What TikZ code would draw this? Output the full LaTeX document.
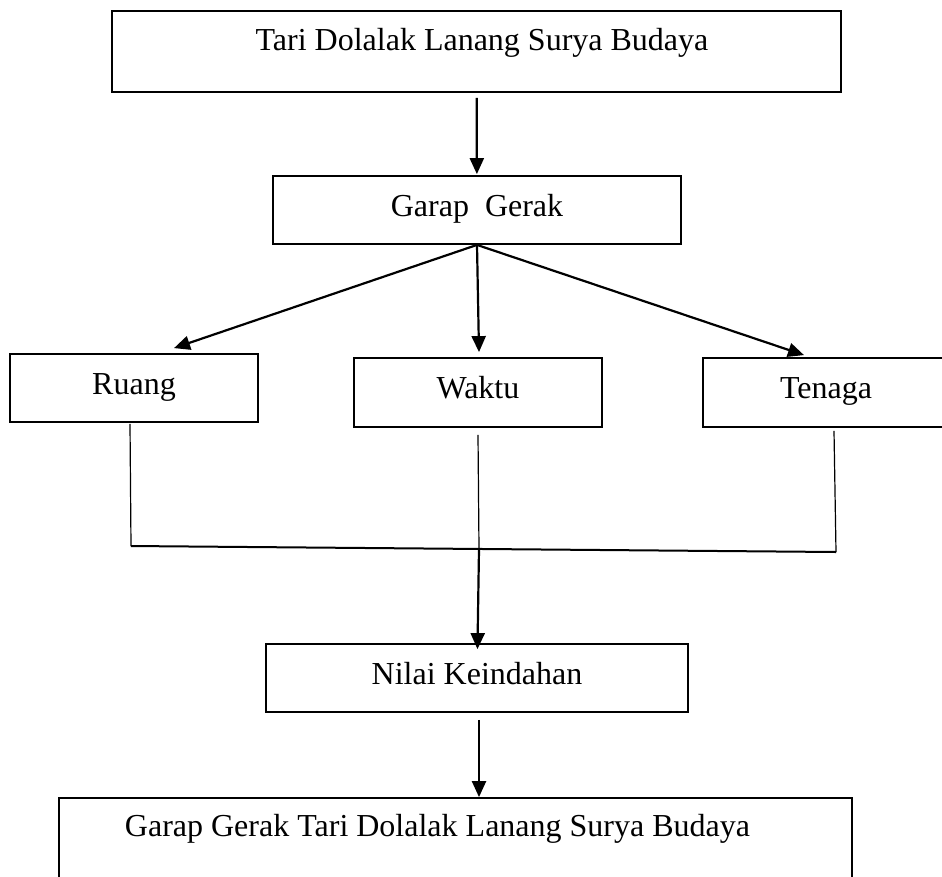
\documentclass[tikz,border=0pt]{standalone}
\usepackage{fontspec}
\setmainfont{Liberation Serif}
\usetikzlibrary{arrows.meta}
\begin{document}
\begin{tikzpicture}[x=1pt,y=-1pt,
  kotak/.style={draw,line width=1.8pt,inner sep=0pt,text height=21pt,text depth=9pt,font=\fontsize{32}{36}\selectfont},
  teks/.style={inner sep=0pt,font=\fontsize{32}{36}\selectfont},
  panah/.style={line width=2.2pt,-{Triangle[length=16pt,width=14pt]}},
  garis/.style={line width=1.2pt}]
  \useasboundingbox (0,0) rectangle (942,876);
  \clip (0,0) rectangle (942,876);
  \node[kotak,minimum width=729pt,minimum height=81pt] (top) at (476.5,51.5) {};
  \node[teks] (topteks) at (482,43) {Tari Dolalak Lanang Surya Budaya};
  \node[kotak,minimum width=408pt,minimum height=68pt] (garap) at (477,210) {Garap~ Gerak};
  \node[kotak,minimum width=248pt,minimum height=68pt] (ruang) at (134,388) {Ruang};
  \node[kotak,minimum width=248pt,minimum height=69pt] (waktu) at (478,392.5) {Waktu};
  \node[kotak,minimum width=246pt,minimum height=69pt] (tenaga) at (826,392.5) {Tenaga};
  \node[kotak,minimum width=422pt,minimum height=68pt] (nilai) at (477,678) {Nilai Keindahan};
  \node[kotak,minimum width=793pt,minimum height=120pt] (hasil) at (455.5,858) {};
  \node[teks] (hasilteks) at (437.5,829) {Garap Gerak Tari Dolalak Lanang Surya Budaya};
  \coordinate (kiri) at (131,546);
  \coordinate (kanan) at (836,552);
  \coordinate (temu) at (479,549);
  \draw[panah,shorten <=5pt,shorten >=1pt] (top) -- (garap);
  \draw[panah] (garap.south) -- ([xshift=40pt,yshift=5pt]ruang.north);
  \draw[panah] (garap.south) -- ([xshift=1pt,yshift=5pt]waktu.north);
  \draw[panah] (garap.south) -- ([xshift=-22pt,yshift=2pt]tenaga.north);
  \draw[garis] ([xshift=-4pt,yshift=-1pt]ruang.south) -- (kiri);
  \draw[garis] ([xshift=8pt,yshift=-3pt]tenaga.south) -- (kanan);
  \draw[line width=2pt] (kiri) -- (kanan);
  \draw[garis] ([yshift=-7pt]waktu.south) -- (temu);
  \draw[panah,shorten >=-6pt] (temu) -- (nilai);
  \draw[panah,shorten <=7pt] ([xshift=2pt]nilai.south) -- ([xshift=2pt]nilai.south |- hasil.north);
\end{tikzpicture}
\end{document}
